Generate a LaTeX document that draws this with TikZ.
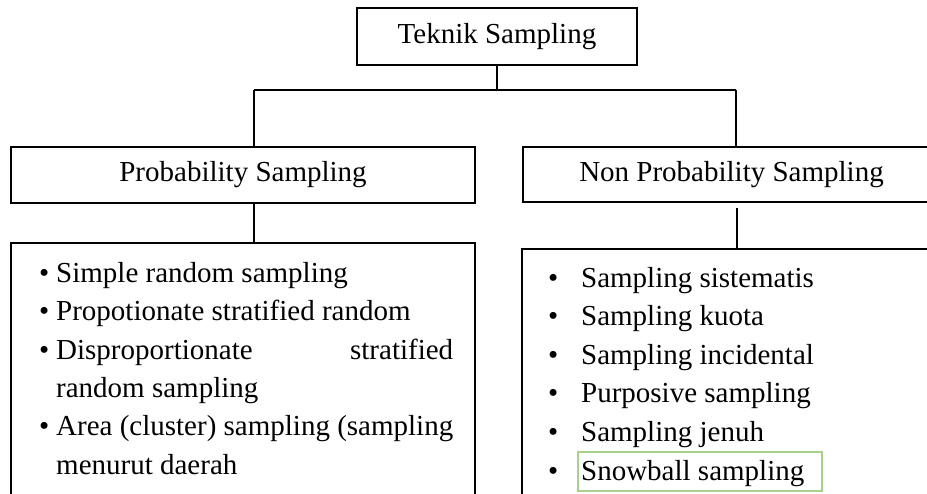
\documentclass[tikz,border=0pt]{standalone}
\usepackage{fontspec}
\setmainfont{Liberation Serif}
\definecolor{snowgreen}{HTML}{A9D18E}
\begin{document}
\begin{tikzpicture}[x=1pt,y=-1pt,
  box/.style={draw, line width=1.2pt, inner sep=0pt,
    font=\fontsize{29}{38}\selectfont},
  wire/.style={line width=1.2pt},
  entry/.style={anchor=base west, inner sep=0pt,
    font=\fontsize{29}{38}\selectfont},
  markbox/.style={draw=snowgreen, line width=2.7pt, inner sep=0pt}]
\useasboundingbox (0,0) rectangle (927,493);
\clip (0,0) rectangle (927,493);

% heading boxes
\node[box, minimum width=280pt, minimum height=57pt] (top) at (497,36.5) {Teknik Sampling};
\node[box, minimum width=464pt, minimum height=56pt] (prob) at (243,175) {Probability Sampling};
\node[box, minimum width=417pt, minimum height=55pt] (nonprob) at (731.5,174.5) {Non Probability Sampling};

% list boxes (open at the bottom of the page)
\node[box, minimum width=464pt, minimum height=277pt] (listL) at (243,381.5) {};
\node[box, minimum width=438pt, minimum height=271pt] (listR) at (741,384.5) {};

% tree connectors
\coordinate (jl) at (254,90);
\coordinate (jr) at (736,90);
\coordinate (jm) at (top.south |- jl);
\coordinate (rgap) at (737,208);
\draw[wire] (top.south) -- (jm);
\draw[wire] (jl) -- (jr);
\draw[wire] (jl) -- (jl |- prob.north);
\draw[wire] (jr) -- (jr |- nonprob.north);
\draw[wire] (jl |- prob.south) -- (jl |- listL.north);
\draw[wire] (rgap) -- (rgap |- listR.north);

% probability sampling techniques
\node[entry] (l1) at (39,282.5) {\makebox[17pt][l]{•}Simple random sampling};
\node[entry] (l2) at (39,320.8) {\makebox[17pt][l]{•}Propotionate stratified random};
\node[entry] (l3) at (39,359.1) {\makebox[17pt][l]{•}\hbox to 397pt{Disproportionate\hfill stratified}};
\node[entry] (l4) at (56,397.4) {random sampling};
\node[entry] (l5) at (39,435.7) {\makebox[17pt][l]{•}Area (cluster) sampling (sampling};
\node[entry] (l6) at (56,474) {menurut daerah};

% non-probability sampling techniques
\node[entry] (r1) at (548,287) {\makebox[33pt][l]{•}Sampling sistematis};
\node[entry] (r2) at (548,325.6) {\makebox[33pt][l]{•}Sampling kuota};
\node[entry] (r3) at (548,364.2) {\makebox[33pt][l]{•}Sampling incidental};
\node[entry] (r4) at (548,402.8) {\makebox[33pt][l]{•}Purposive sampling};
\node[entry] (r5) at (548,441.4) {\makebox[33pt][l]{•}Sampling jenuh};
\node[markbox, minimum width=244pt, minimum height=39pt] (snow) at (700,471.5) {};
\node[entry] (r6) at (548,480) {\makebox[33pt][l]{•}Snowball sampling};
\end{tikzpicture}
\end{document}
